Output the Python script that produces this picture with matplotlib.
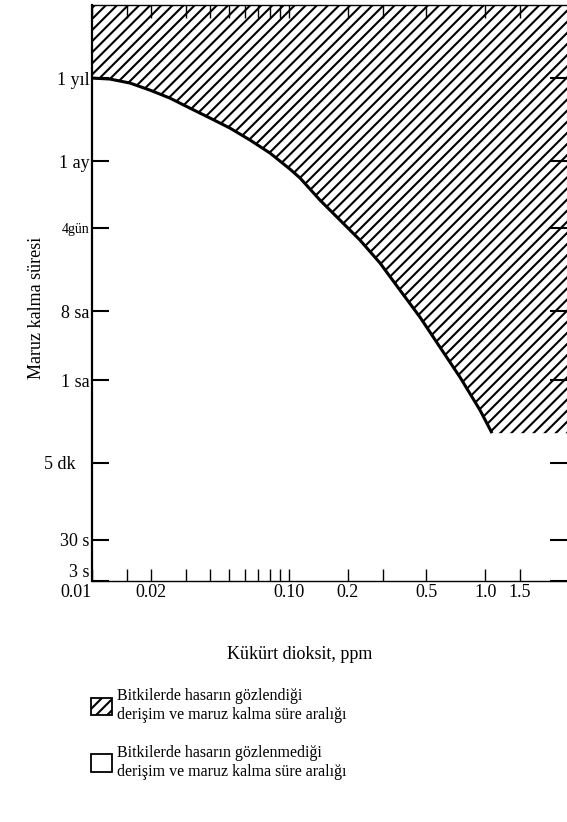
import numpy as np
import matplotlib
matplotlib.use('Agg')
import matplotlib.pyplot as plt
from matplotlib.patches import Patch

plt.rcParams['font.family'] = ['Liberation Serif', 'DejaVu Serif']
plt.rcParams['hatch.linewidth'] = 1.5

# sinir egrisi: SO2 derisimi (ppm) ve maruz kalma suresi (s)
so2_ppm = [0.0100, 0.01234, 0.01561, 0.01972, 0.02492, 0.03149, 0.0398, 0.0503,
           0.06357, 0.08035, 0.1015, 0.1142, 0.1443, 0.1823, 0.2304, 0.2912,
           0.368, 0.465, 0.5877, 0.7428, 0.9388, 1.081]
sure_s = [3.16e7, 3.07e7, 2.72e7, 2.20e7, 1.73e7, 1.28e7, 9.51e6, 7.03e6,
          4.91e6, 3.32e6, 2.05e6, 1.57e6, 8.07e5, 4.43e5, 2.43e5, 1.22e5,
          5.40e4, 2.40e4, 9.73e3, 3.95e3, 1.47e3, 735]
esik_s = 735  # 1.08 ppm ustunde hasar alt siniri

y_ticks = [3, 30, 300, 3600, 28800, 345600, 2592000, 31536000]
y_labels = ['3 s', '30 s', '5 dk   ', '1 sa', '8 sa', '4gün', '1 ay', '1 yıl']

x_ticks = [0.01, 0.015, 0.02, 0.03, 0.04, 0.05, 0.06, 0.07, 0.08, 0.09,
           0.1, 0.2, 0.3, 0.5, 1.0, 1.5]
x_labels = ['0.01', '', '0.02', '', '', '', '', '', '', '',
            '0.10', '0.2', '', '0.5', '1.0', '1.5']

x_max = 2.6
y_max = 2.84e8

# 30 s altinda eksen sikistirilmis cizilmis
L30 = np.log10(30)
k = 0.54


def fwd(y):
    v = np.log10(np.clip(y, 1e-3, None))
    return np.where(v >= L30, v, L30 - (L30 - v) * k)


def inv(v):
    v = np.asarray(v, dtype=float)
    return np.where(v >= L30, 10 ** v, 10 ** (L30 - (L30 - v) / k))


fig = plt.figure(figsize=(5.67, 8.22), dpi=100)
ax = fig.add_axes([92 / 567, 1 - 581 / 822, 1 - 92 / 567, (581 - 5) / 822])

ax.set_xscale('log')
ax.set_yscale('function', functions=(fwd, inv))
ax.set_xlim(0.01, x_max)
ax.set_ylim(3, y_max)

# hasar bolgesi (taranmis)
xf = so2_ppm + [x_max]
yf = sure_s + [esik_s]
ax.fill_between(xf, yf, y_max, facecolor='white', edgecolor='black',
                hatch='///', linewidth=0)
ax.plot(so2_ppm, sure_s, color='black', lw=2.2, solid_capstyle='butt')

ax.set_xticks(x_ticks)
ax.set_xticklabels(x_labels, fontsize=13)
ax.xaxis.set_minor_locator(matplotlib.ticker.NullLocator())
ax.set_yticks(y_ticks)
ax.set_yticklabels(y_labels, fontsize=13)
ax.yaxis.set_minor_locator(matplotlib.ticker.NullLocator())

ax.tick_params(axis='x', direction='in', length=9, width=1, top=True, pad=2)
ax.tick_params(axis='y', direction='in', length=12, width=1.5, right=True, pad=2)

ylbl = ax.get_yticklabels()
ylbl[5].set_fontsize(10)
ylbl[0].set_verticalalignment('bottom')
ax.get_xticklabels()[0].set_horizontalalignment('right')

ax.spines['right'].set_visible(False)
ax.spines['left'].set_linewidth(1.6)
ax.spines['bottom'].set_linewidth(1.0)
ax.spines['top'].set_linewidth(1.0)

ax.set_xlabel('Kükürt dioksit, ppm', fontsize=13)
ax.xaxis.set_label_coords((300 - 92) / 475, -0.113)
ax.set_ylabel('Maruz kalma süresi', fontsize=13)
ax.yaxis.set_label_coords(-0.098, 0.474)

handles = [Patch(facecolor='white', edgecolor='black', hatch='///', lw=1.3),
           Patch(facecolor='white', edgecolor='black', lw=1.3)]
labels = ['Bitkilerde hasarın gözlendiği\nderişim ve maruz kalma süre aralığı',
          'Bitkilerde hasarın gözlenmediği\nderişim ve maruz kalma süre aralığı']
fig.legend(handles, labels, loc='upper left', bbox_to_anchor=(0.135, 0.18),
           frameon=False, fontsize=11.5, handlelength=1.3, handleheight=1.3,
           handletextpad=0.35, labelspacing=1.4)

fig.savefig('out.png', dpi=100)
